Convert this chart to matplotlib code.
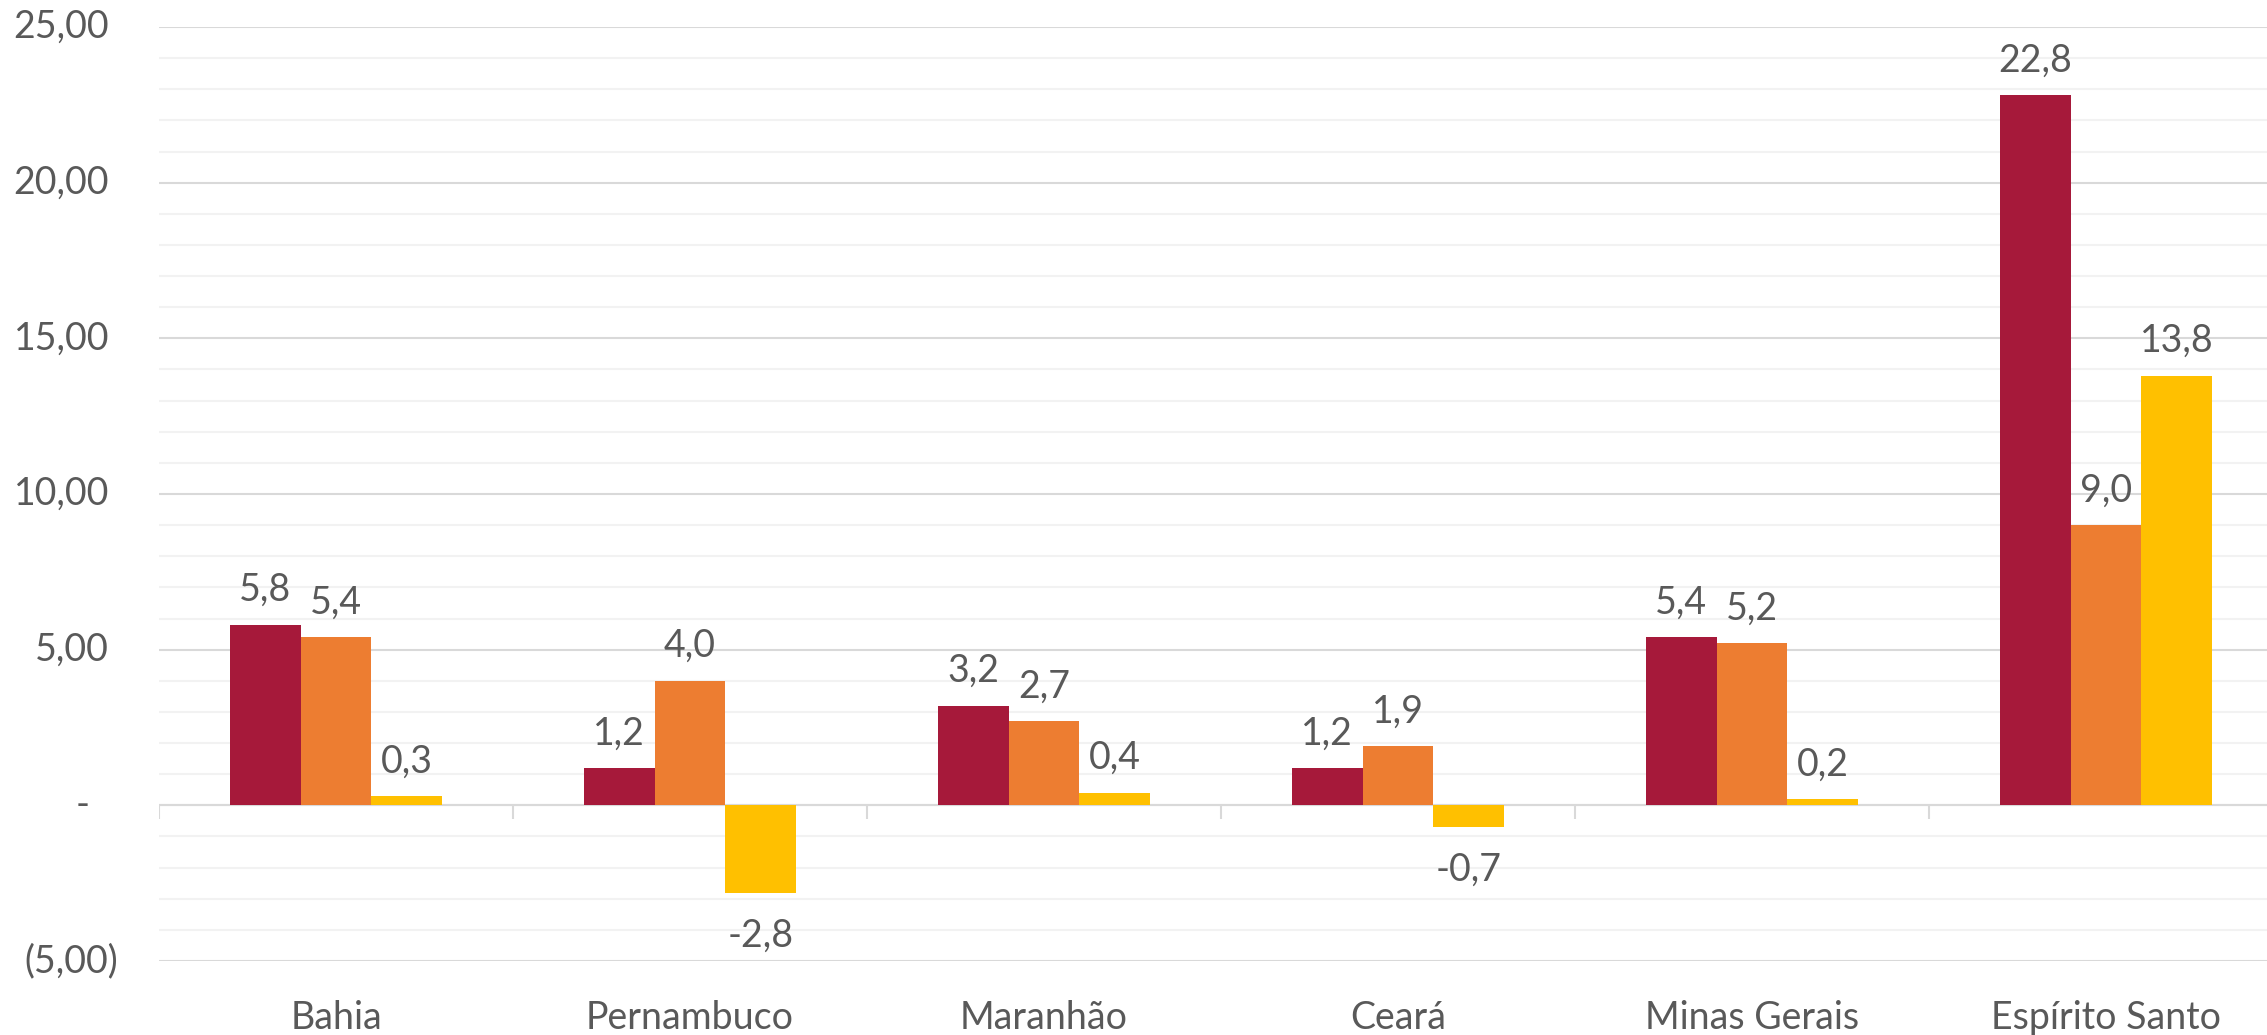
import numpy as np
import matplotlib
matplotlib.use("Agg")
import matplotlib.pyplot as plt
from matplotlib.ticker import MultipleLocator

plt.rcParams["font.family"] = ["Lato", "DejaVu Sans"]

# data
states = ["Bahia", "Pernambuco", "Maranhão", "Ceará", "Minas Gerais", "Espírito Santo"]
serie_1 = [5.8, 1.2, 3.2, 1.2, 5.4, 22.8]
serie_2 = [5.4, 4.0, 2.7, 1.9, 5.2, 9.0]
serie_3 = [0.3, -2.8, 0.4, -0.7, 0.2, 13.8]
y_ticks = [-5, 0, 5, 10, 15, 20, 25]

COLORS = ["#A6193A", "#ED7D31", "#FFC000"]
TXT = "#595959"
FS = 27


def fmt_axis(v):
    # accounting-style axis labels
    if v == 0:
        return "-"
    s = f"{abs(v):.2f}".replace(".", ",")
    return f"({s})" if v < 0 else s


def fmt_bar(v):
    return f"{v:.1f}".replace(".", ",")


fig = plt.figure(figsize=(22.67, 10.35), dpi=100)
ax = fig.add_axes([159 / 2267, 74 / 1035, 2124 / 2267, 934 / 1035])

x = np.arange(len(states))
w = 0.2
for k, (vals, c) in enumerate(zip([serie_1, serie_2, serie_3], COLORS)):
    xs = x + (k - 1) * w
    ax.bar(xs, vals, width=w, color=c, linewidth=0, zorder=3)
    for xi, v in zip(xs, vals):
        off = 25 if v >= 0 else -31
        ax.annotate(fmt_bar(v), (xi, v), xytext=(0, off), textcoords="offset points",
                    ha="center", va="center", fontsize=FS, color=TXT)

ax.set_xlim(-0.5, len(states) - 0.5)
ax.set_ylim(y_ticks[0], y_ticks[-1])

# gridlines: major every 5, minor every 1
ax.yaxis.set_major_locator(MultipleLocator(5))
ax.yaxis.set_minor_locator(MultipleLocator(1))
ax.grid(True, which="major", axis="y", color="#D9D9D9", lw=1.5, zorder=0)
ax.grid(True, which="minor", axis="y", color="#F2F2F2", lw=1.5, zorder=0)
ax.axhline(0, color="#D9D9D9", lw=1.5, zorder=2)
bounds = np.arange(len(states) + 1) - 0.5
ax.vlines(bounds, -0.45, 0, color="#D9D9D9", lw=1.5, zorder=2)

for sp in ax.spines.values():
    sp.set_visible(False)

ax.set_xticks(x, states)
ax.tick_params(axis="x", length=0, pad=28, labelsize=FS, labelcolor=TXT)
ax.tick_params(axis="y", which="both", length=0, labelleft=False)

for v in y_ticks:
    off = -36 if v > 0 else (-29.5 if v < 0 else -50)
    ax.annotate(fmt_axis(v), (0, v), xycoords=("axes fraction", "data"),
                xytext=(off, 0), textcoords="offset points",
                ha="right", va="center", fontsize=FS, color=TXT)

fig.savefig("out.png", dpi=100)
